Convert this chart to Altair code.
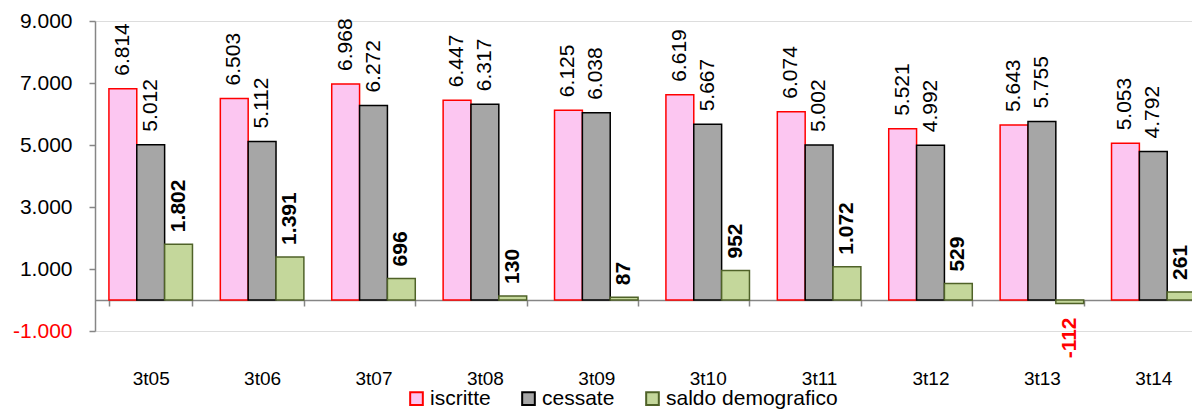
import altair as alt
import pandas as pd

periodi = ["3t05", "3t06", "3t07", "3t08", "3t09", "3t10", "3t11", "3t12", "3t13", "3t14"]
iscritte = [6814, 6503, 6968, 6447, 6125, 6619, 6074, 5521, 5643, 5053]
cessate = [5012, 5112, 6272, 6317, 6038, 5667, 5002, 4992, 5755, 4792]
saldo = [1802, 1391, 696, 130, 87, 952, 1072, 529, -112, 261]
serie = ["iscritte", "cessate", "saldo demografico"]
fill_colori = ["#FCC6F1", "#A6A6A6", "#C4D79B"]
bordo_colori = ["#FF0000", "#000000", "#4F6228"]
y_ticks = [-1000, 1000, 3000, 5000, 7000, 9000]

rows = []
for i, p in enumerate(periodi):
    for s, vals in zip(serie, [iscritte, cessate, saldo]):
        v = vals[i]
        rows.append({"periodo": p, "serie": s, "valore": v,
                     "etichetta": f"{v:,}".replace(",", ".")})
df = pd.DataFrame(rows)

FONT = "Liberation Sans"
PLOT_W = 1097
RANGE_W = 1114
PLOT_H = 310
AXIS_GREY = "#868686"

x_enc = alt.X(
    "periodo:N", sort=periodi, title=None,
    scale=alt.Scale(range=[0, RANGE_W], paddingInner=0.25, paddingOuter=0.125),
    axis=alt.Axis(offset=-31, tickBand="extent", labelAngle=0, labelFontSize=19,
                  labelPadding=63, tickSize=6, domainColor=AXIS_GREY, tickColor=AXIS_GREY,
                  domainWidth=1.5, tickWidth=1.5, labelColor="black", labelFont=FONT),
)
xoff = alt.XOffset("serie:N", sort=serie,
                   scale=alt.Scale(domain=serie, paddingInner=0, paddingOuter=0))
y_enc = alt.Y(
    "valore:Q", title=None,
    scale=alt.Scale(domain=[-1000, 9000], nice=False, zero=False),
    axis=alt.Axis(values=y_ticks, grid=False,
                  labelExpr="(datum.value < 0 ? '-' : '') + format(abs(datum.value) / 1000, '.3f')",
                  labelFontSize=21, labelPadding=17, tickSize=6, labelFont=FONT,
                  domainColor=AXIS_GREY, tickColor=AXIS_GREY, domainWidth=1.5, tickWidth=1.5,
                  labelColor={"condition": {"test": "datum.value < 0", "value": "#FF0000"},
                              "value": "black"}),
)

legend = alt.Legend(orient="none", legendX=311, legendY=367, direction="horizontal",
                    title=None, symbolType="square", symbolSize=160, symbolStrokeWidth=2,
                    labelFontSize=21, labelFont=FONT, columnPadding=27, labelOffset=3,
                    labelLimit=0, padding=0)

bars = alt.Chart(df).mark_bar(strokeWidth=1.5).encode(
    x=x_enc, xOffset=xoff, y=y_enc,
    fill=alt.Fill("serie:N", sort=serie, scale=alt.Scale(domain=serie, range=fill_colori),
                  legend=legend),
    stroke=alt.Stroke("serie:N", sort=serie, scale=alt.Scale(domain=serie, range=bordo_colori),
                      legend=legend),
)

base_text = alt.Chart(df).encode(x=x_enc, xOffset=xoff, y=y_enc, text="etichetta:N")

t1 = base_text.transform_filter("datum.serie != 'saldo demografico'").mark_text(
    angle=270, align="left", baseline="middle", dx=13, fontSize=21, font=FONT, color="black")
t2 = base_text.transform_filter("datum.serie == 'saldo demografico' && datum.valore >= 0").mark_text(
    angle=270, align="left", baseline="middle", dx=12, fontSize=21, font=FONT,
    fontWeight="bold", color="black")
t3 = base_text.transform_filter("datum.valore < 0").mark_text(
    angle=270, align="right", baseline="middle", dx=-14, fontSize=21, font=FONT,
    fontWeight="bold", color="#FF0000")

chart = alt.layer(bars, t1, t2, t3).properties(
    width=PLOT_W, height=PLOT_H,
    padding={"left": 87, "top": 13, "right": 0, "bottom": 78},
    autosize=alt.AutoSizeParams(type="none"),
).configure_view(stroke=None).configure(font=FONT)

chart.save("out.html", embed_options={"renderer": "svg", "actions": False})
